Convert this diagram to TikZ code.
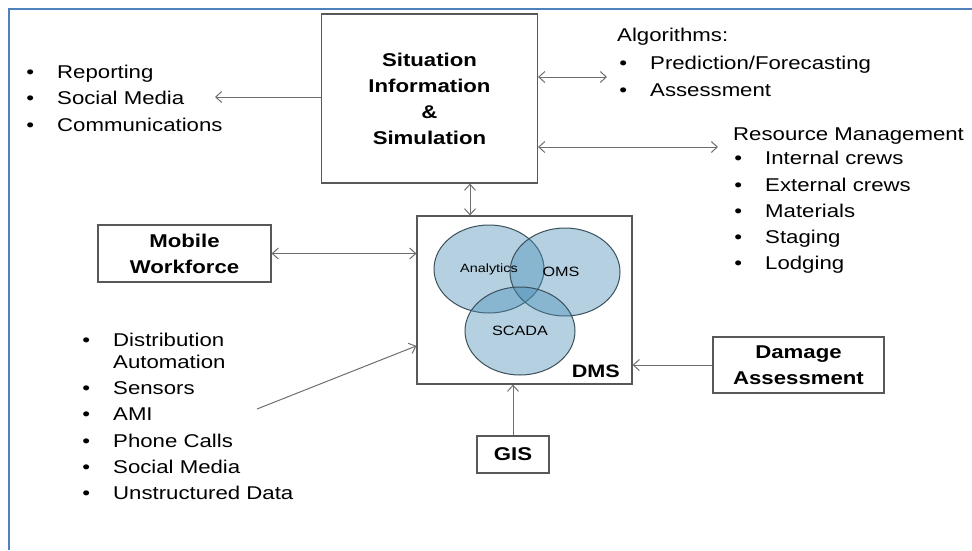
\documentclass[tikz,border=0pt]{standalone}
\usepackage{fontspec}
\setmainfont[FakeStretch=1.2]{Liberation Sans}
\usetikzlibrary{arrows.meta,shapes.geometric}
\definecolor{frameblue}{RGB}{79,129,189}
\definecolor{vennblue}{RGB}{70,140,180}
\definecolor{venndraw}{RGB}{60,80,90}
\definecolor{linegray}{RGB}{110,110,110}
\newcommand{\bul}{\llap{\textbullet\hspace{23pt}}}
\tikzset{
  block/.style={draw=linegray!80!black, line width=1.2pt, fill=white, align=center,
    inner sep=0pt, font=\fontsize{18.5}{26}\selectfont\bfseries},
  listtxt/.style={anchor=base west, inner sep=0pt, font=\fontsize{18.5}{22}\selectfont},
  venn/.style={ellipse, draw=venndraw, line width=1pt, fill=vennblue, fill opacity=0.4,
    minimum width=110pt, minimum height=88pt, inner sep=0pt},
  link/.style={draw=linegray, line width=1pt}
}
\begin{document}
\begin{tikzpicture}[x=1pt,y=-1pt,>={Straight Barb[length=6pt,width=11pt]}]
        \useasboundingbox (0,0) rectangle (972,550);
        \draw[frameblue, line width=2pt] (9,550) -- (9,9) -- (972,9);
        \node[block, minimum width=216pt, minimum height=169pt] (sis) at (429.5,98.5) {Situation\\Information\\\&\\Simulation};
        \node[block, minimum width=215pt, minimum height=168pt] (dms) at (524.5,300) {};
        \node[block, minimum width=173pt, minimum height=57pt] (mobile) at (184.5,253.5) {Mobile\\Workforce};
        \node[block, minimum width=171pt, minimum height=56pt] (damage) at (798.5,365) {Damage\\Assessment};
        \node[block, minimum width=72pt, minimum height=37pt] (gis) at (513,454.5) {GIS};
        \node[venn] (ana) at (489,269) {};
        \node[venn] (oms) at (565,272) {};
        \node[venn] (scada) at (520,331) {};
        \node[font=\fontsize{12}{14}\selectfont] at (ana) {Analytics};
        \node[font=\fontsize{13.5}{16}\selectfont, xshift=-4pt] at (oms) {OMS};
        \node[font=\fontsize{13.5}{16}\selectfont] at (scada) {SCADA};
        \node[anchor=base east, inner sep=0pt, font=\fontsize{18}{22}\selectfont\bfseries] (dmslbl) at (620,377) {DMS};
        \node[listtxt] (rep) at (57,78) {\bul Reporting};
        \node[listtxt] (soc) at (57,104) {\bul Social Media};
        \node[listtxt] (com) at (57,131) {\bul Communications};
        \node[listtxt] (alg) at (617,41) {Algorithms:};
        \node[listtxt] (pred) at (650,69) {\bul Prediction/Forecasting};
        \node[listtxt] (asmt) at (650,96) {\bul Assessment};
        \node[listtxt] (res) at (733,140) {Resource Management};
        \node[listtxt] (intc) at (765,164) {\bul Internal crews};
        \node[listtxt] (extc) at (765,191) {\bul External crews};
        \node[listtxt] (mat) at (765,217) {\bul Materials};
        \node[listtxt] (stag) at (765,243) {\bul Staging};
        \node[listtxt] (lodg) at (765,269) {\bul Lodging};
        \node[listtxt] (dist) at (113,346) {\bul Distribution};
        \node[listtxt] (auto) at (113,368) {Automation};
        \node[listtxt] (sens) at (113,394) {\bul Sensors};
        \node[listtxt] (ami) at (113,420) {\bul AMI};
        \node[listtxt] (phone) at (113,447) {\bul Phone Calls};
        \node[listtxt] (socm) at (113,473) {\bul Social Media};
        \node[listtxt] (unstr) at (113,499) {\bul Unstructured Data};
        \coordinate (repto) at (215,97);
        \coordinate (algto) at (607,77);
        \coordinate (resto) at (718,147);
        \coordinate (dato) at (257,409);
        \draw[link,->] (sis.west |- repto) -- (repto);
        \draw[link,<->] (sis.east |- algto) -- (algto);
        \draw[link,<->] (sis.east |- resto) -- (resto);
        \draw[link,<->] ([xshift=40.5pt]sis.south) -- ([xshift=-54.5pt]dms.north);
        \draw[link,<->] (mobile.east) -- (mobile.east -| dms.west);
        \draw[link,->] (dato) -- (dms.203);
        \draw[link,->] (damage.west) -- (damage.west -| dms.east);
        \draw[link,->] (gis.north) -- (gis.north |- dms.south);
\end{tikzpicture}
\end{document}
